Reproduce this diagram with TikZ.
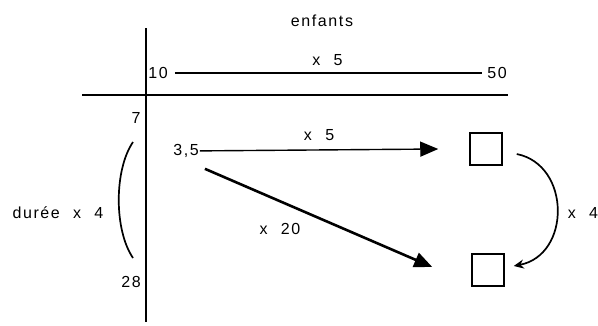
\documentclass[tikz,border=0pt]{standalone}
\usepackage{fontspec}
\setmainfont{Liberation Sans}[LetterSpace=10, WordSpace=2.2]
\usetikzlibrary{positioning,arrows.meta}

\begin{document}
\begin{tikzpicture}[x=1pt, y=-1pt,
  lbl/.style={font=\fontsize{16}{19}\selectfont, inner sep=1pt},
  cell/.style={draw, line width=1.5pt, minimum size=32pt, inner sep=0pt},
  axis/.style={line width=2pt},
  arrow/.style={-{Triangle[length=18pt,width=15pt]}, line width=1.4pt},
  bendarrow/.style={-{Stealth[length=10pt,width=9pt]}, line width=1.7pt},
]
\useasboundingbox (0,0) rectangle (598,325);

% Axes of the table
\draw[axis] (146,28) -- (146,322);
\draw[axis] (82,95) -- (508,95);

% Children row
\node[lbl] (enfants) at (322,21) {enfants};
\node[lbl] (n10) at (158,73) {10};
\node[lbl] (n50) at (497,73) {50};
\draw[line width=1.4pt, shorten <=6pt, shorten >=4pt] (n10) -- (n50) node[lbl, midway, above=6pt] {x 5};

% Duration column
\node[lbl] (n7) at (136,118) {7};
\node[lbl] (n28) at (131,282) {28};
\coordinate (d1) at (133,142);
\coordinate (d2) at (133,258);
\draw[line width=1.7pt] (d1) .. controls (114,170) and (114,230) .. (d2);
\node[lbl] (duree) at (58,213) {durée x 4};

% Unknown cells
\node[lbl] (n35) at (186,151) {3,5};
\node[cell] (c1) at (486,149) {};
\node[cell] (c2) at (488,270) {};

% Arrows
\draw[arrow] (n35) -- ([xshift=-31pt]c1.west) node[lbl, midway, above=8pt] {x 5};
\draw[arrow, line width=2.6pt] ([shift={(5,10)}]n35.south east) -- ([shift={(-39,-3)}]c2.west)
  node[lbl, pos=0.33, below=20pt] {x 20};
\draw[bendarrow] ([shift={(14,5)}]c1.east) .. controls (571,165) and (571,255) .. ([shift={(9,-4)}]c2.east);
\node[lbl] (x4) at (583,213) {x 4};

\end{tikzpicture}
\end{document}
